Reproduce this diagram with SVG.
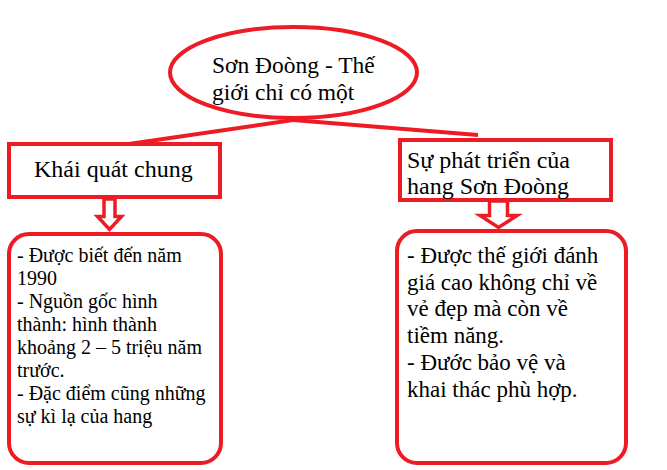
<svg xmlns="http://www.w3.org/2000/svg" width="667" height="470" viewBox="0 0 667 470" font-family="'Liberation Serif', 'DejaVu Serif', serif">
<style>
.shape{fill:#ffffff;stroke:#ED1C24;stroke-width:4}
.line{stroke:#ED1C24;stroke-width:4;fill:none}
.arrow{fill:#ffffff;stroke:#ED1C24;stroke-width:3.5;stroke-linejoin:miter}
text{font-family:'Liberation Serif','DejaVu Serif',serif;fill:#000000}
.t24{font-size:24px}
.t235{font-size:23.5px}
.t23{font-size:23px}
.t20{font-size:20px}
</style>
<rect width="667" height="470" fill="#ffffff"/>
<g id="connectors">
<line class="line" x1="293" y1="120" x2="115" y2="146"/>
<line class="line" x1="293" y1="120" x2="478" y2="135"/>
<polygon class="arrow" points="104,199 115,199 115,216.5 121.5,216.5 109.5,229.5 97.5,216.5 104,216.5"/>
<polygon class="arrow" points="489.5,201 507.5,201 507.5,215.5 517,215.5 498.5,227.5 480,215.5 489.5,215.5"/>
</g>
<g id="root">
<ellipse class="shape" cx="293.5" cy="72.5" rx="123.5" ry="45.5"/>
<text class="t235" x="212" y="73">Sơn Đoòng - Thế</text>
<text class="t235" x="212" y="100">giới chỉ có một</text>
</g>
<g id="general">
<rect class="shape" x="9" y="144" width="211" height="53"/>
<text class="t24" x="34" y="177">Khái quát chung</text>
</g>
<g id="development">
<rect class="shape" x="400" y="140" width="211" height="60"/>
<text class="t24" x="407" y="168">Sự phát triển của</text>
<text class="t24" x="407" y="194">hang Sơn Đoòng</text>
</g>
<g id="general-detail">
<rect class="shape" x="9" y="234" width="212" height="229" rx="20" ry="20"/>
<text class="t20" x="17" y="262">- Được biết đến năm</text>
<text class="t20" x="17" y="285">1990</text>
<text class="t20" x="17" y="308">- Nguồn gốc hình</text>
<text class="t20" x="17" y="331">thành: hình thành</text>
<text class="t20" x="17" y="354">khoảng 2 – 5 triệu năm</text>
<text class="t20" x="17" y="377">trước.</text>
<text class="t20" x="17" y="400">- Đặc điểm cũng những</text>
<text class="t20" x="17" y="423">sự kì lạ của hang</text>
</g>
<g id="development-detail">
<rect class="shape" x="397" y="231" width="229" height="232" rx="20" ry="20"/>
<text class="t23" x="407" y="263">- Được thế giới đánh</text>
<text class="t23" x="407" y="290">giá cao không chỉ về</text>
<text class="t23" x="407" y="316">vẻ đẹp mà còn về</text>
<text class="t23" x="407" y="343">tiềm năng.</text>
<text class="t23" x="407" y="370">- Đước bảo vệ và</text>
<text class="t23" x="407" y="397">khai thác phù hợp.</text>
</g>
</svg>
